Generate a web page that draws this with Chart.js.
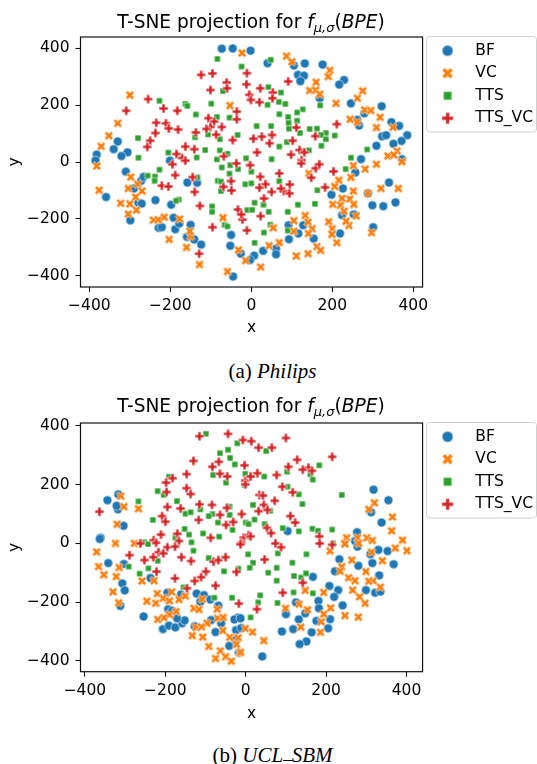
<!DOCTYPE html>
<html>
<head>
<meta charset="utf-8">
<script src="https://cdn.jsdelivr.net/npm/chart.js@4"></script>
<style>
html,body{margin:0;padding:0;background:#fff;}
#page{position:relative;width:537px;height:764px;overflow:hidden;}
canvas{position:absolute;left:0;}
.title{position:absolute;left:80px;width:342px;text-align:center;font:18.6px "DejaVu Sans";color:#000;line-height:22px;white-space:nowrap;z-index:2;}
.title sub{font-size:13px;line-height:0;vertical-align:-4px;}
.cap{position:absolute;left:4px;width:537px;font:21px "Liberation Serif";color:#000;line-height:24px;white-space:nowrap;text-align:center;z-index:2;}
.us{position:relative;top:-3px;font-size:17px;}
</style>
</head>
<body>
<div id="page">
<div class="title" style="top:11px">T-SNE projection for <i>f</i><sub><i>μ,σ</i></sub>(<i>BPE</i>)</div>
<canvas id="c1" width="545" height="345" style="top:0"></canvas>
<div class="cap" style="top:359px">(a) <i>Philips</i></div>
<div class="title" style="top:395px">T-SNE projection for <i>f</i><sub><i>μ,σ</i></sub>(<i>BPE</i>)</div>
<canvas id="c2" width="545" height="345" style="top:386px"></canvas>
<div class="cap" style="top:743px">(b) <i>UCL<span class="us">_</span>SBM</i></div>
</div>
<script>
const seriesNames = ['BF', 'VC', 'TTS', 'TTS_VC'];
const seriesColors = ['#1f77b4', '#ff7f0e', '#2ca02c', '#d62728'];
const tickValues = [-400, -200, 0, 200, 400];

const philipsBF = [[-73,398],[-46,399],[-2,391],[-382,26],[-330,72],[-340,45],[-306,34],[-321,21],[-201,5],
[40,347],[105,339],[132,346],[176,342],[115,306],[130,303],[121,284],[229,288],[217,272],[246,206],[322,196],[279,171],[262,148],[266,128],[346,140],[365,127],[323,90],[333,94],[385,94],[371,74],[351,64],[309,57],[271,10],[372,10],[169,224],
[-385,5],[-310,-34],[-272,-66],[-266,-52],[-290,-93],[-359,-123],[-279,-143],[-271,-146],[-299,-205],[-237,-134],[-198,-150],[-158,-72],[-134,-73],[-192,-196],[-229,-231],[-221,-229],[-188,-236],[-178,-216],[-150,-221],[-159,-263],[-141,-272],[-124,-290],[-50,-256],[-52,-294],[-26,-322],[-45,-402],
[257,-37],[340,-72],[226,-93],[198,-115],[299,-152],[326,-155],[356,-142],[288,-110],[253,-184],[224,-187],[301,-229],[219,-251],[92,-222],[128,-222],[116,-251],[93,-271],[154,-269],[61,-304],[61,-324],[29,-312],[7,-329],[-3,-344]];
const philipsVC = [[-23,383],[-300,235],[-330,136],[-352,92],[-371,55],[-53,198],
[87,372],[100,352],[194,322],[190,300],[160,280],[144,251],[159,252],[169,238],[275,250],[262,224],[209,206],[280,183],[295,181],[244,150],[262,140],[318,157],[309,121],[350,122],[360,39],[337,21],[352,25],
[-382,-14],[-376,-99],[-298,-53],[-304,-93],[-281,-78],[-270,-102],[-286,-123],[-323,-145],[-300,-147],[-304,-183],[-284,-169],[-242,-204],[-230,-203],[-215,-194],[-177,-200],[-203,-272],[-150,-261],[-152,-243],[-160,-300],[-128,-360],[-70,-196],[-59,-385],[-32,-309],[-14,-346],
[372,1],[309,-8],[281,-25],[252,-13],[246,-54],[216,-64],[206,-86],[252,-102],[224,-128],[243,-130],[288,-110],[320,-93],[363,-93],[201,-149],[220,-152],[253,-149],[229,-173],[259,-189],[191,-210],[241,-223],[200,-234],[199,-254],[297,-248],[211,-283],[234,-208],[105,-206],[133,-188],[140,-211],[150,-234],[141,-251],[162,-297],[140,-322],[111,-330],[69,-283],[44,-294],[23,-369],[54,-231],[171,-310],[142,-40],[105,-243]];
const philipsTTS = [[-84,362],[-24,335],[-227,215],[-163,204],[-158,197],[-99,205],[-70,249],[-137,167],[-85,158],[-54,156],[-34,95],[-280,84],[-139,87],[-107,97],[-78,80],[-205,33],[-114,42],[-78,41],[-59,29],[-279,15],[-135,16],[-85,9],[-13,13],
[48,359],[42,263],[73,244],[68,211],[84,204],[40,201],[170,199],[127,185],[113,174],[69,168],[91,158],[113,145],[92,137],[93,117],[13,126],[49,126],[120,102],[144,116],[162,117],[184,102],[172,95],[206,93],[184,80],[88,70],[69,54],[173,57],[142,41],[286,44],[50,10],[246,15],
[-256,-48],[-238,-51],[-227,-27],[-239,-66],[-133,-54],[-179,-132],[-186,-136],[-97,-156],[-97,-175],[-66,-221],[-59,-226],[-73,-19],[-54,-41],[-52,-11],[-33,-25],[-83,-66],[-75,-69],[-75,-102],[-15,-78],[-10,-169],
[233,-25],[0,-34],[69,-67],[0,-75],[163,-99],[8,-143],[30,-150],[2,-168],[43,-175],[90,-175],[115,-150],[157,-147],[47,-220],[31,-248],[90,-241],[8,-284]];
const philipsTTSVC = [[-124,306],[-96,311],[-11,312],[-61,279],[-12,273],[-101,253],[-60,259],[-255,221],[-309,180],[-217,188],[-183,180],[-36,177],[-36,150],[-106,154],[-92,142],[-235,138],[-211,136],[-204,118],[-181,114],[-101,123],[-73,123],[-111,116],[-237,102],[-137,104],[-87,96],[-250,75],[-46,77],[-257,53],[-163,54],[-141,45],[-185,28],[-171,14],[-68,20],
[22,259],[53,244],[91,283],[-5,236],[52,224],[-1,218],[20,210],[211,133],[111,121],[158,91],[51,95],[26,89],[5,82],[45,66],[102,75],[119,42],[14,34],[98,26],[131,34],[124,7],
[-195,-8],[-163,5],[-188,-46],[-145,-53],[-221,-83],[-205,-86],[-140,-105],[-127,-154],[-96,-229],[-33,-167],[-22,-202],[-25,-184],[-11,-240],[-129,-322],[-37,-5],[-3,-11],[-50,-67],[-69,-87],[-49,-100],
[123,-5],[69,-40],[159,-22],[168,-8],[203,-33],[148,-55],[22,-52],[35,-78],[20,-90],[50,-105],[80,-102],[95,-79],[94,-110],[31,-128],[182,-89],[23,-190],[73,-93]];

const ucl_BF = [[-344,147],[-317,167],[-318,116],[-321,128],[-304,60],[-361,19],[-363,15],
[318,183],[355,147],[312,106],[338,71],[104,42],[277,38],[272,8],
[-342,-67],[-303,-70],[-307,-136],[-301,-160],[-312,-213],[-237,-118],[-254,-249],[-206,-292],[-191,-280],[-175,-286],[-158,-272],[-152,-262],[-193,-224],[-183,-229],[-171,-255],[-195,-168],[-161,-174],[-122,-171],[-104,-176],[-88,-191],[-113,-199],[-68,-212],[-86,-261],[-61,-272],[-127,-282],[-75,-302],[-19,-253],[-28,-259],[-24,-295],[-11,-288],[-41,-349],[-17,-372],[-26,-329],
[278,-11],[330,-22],[353,-26],[310,-37],[233,-54],[280,-76],[315,-67],[368,-71],[222,-95],[332,-109],[167,-114],[208,-145],[230,-159],[220,-182],[299,-159],[322,-168],[335,-164],[181,-196],[182,-221],[241,-211],[125,-201],[100,-241],[148,-238],[132,-259],[210,-258],[176,-264],[205,-289],[90,-300],[118,-292],[164,-303],[151,-334],[134,-343],[41,-385],[-13,-255]];
const ucl_VC = [[-311,161],[-303,125],[-267,118],[-320,65],[-324,0],[-277,0],
[320,138],[306,116],[365,90],[363,43],[251,19],[278,19],[301,19],[315,10],[390,11],[246,0],[281,0],
[-371,-29],[-366,-79],[-315,-82],[-353,-107],[-322,-113],[-330,-165],[-316,-202],[-258,-128],[-228,-127],[-246,-197],[-220,-171],[-224,-204],[-205,-187],[-184,-165],[-190,-196],[-166,-191],[-150,-179],[-129,-221],[-116,-225],[-108,-190],[-71,-224],[-173,-232],[-190,-243],[-204,-253],[-219,-259],[-70,-255],[-56,-252],[-96,-272],[-124,-286],[-110,-284],[-133,-314],[-107,-319],[-92,-351],[-57,-297],[-40,-320],[-19,-321],[-23,-344],[-63,-366],[-50,-386],[-75,-392],[-36,-401],[-15,-372],[-1,-290],
[247,-2],[210,-26],[313,-30],[372,-16],[401,-25],[264,-57],[340,-59],[239,-79],[235,-95],[299,-96],[256,-117],[272,-127],[317,-127],[306,-129],[335,-149],[266,-159],[283,-182],[297,-204],[148,-160],[194,-167],[133,-207],[99,-221],[154,-226],[211,-220],[247,-246],[280,-251],[194,-241],[188,-267],[186,-303],[137,-285],[45,-331],[17,-302],[-13,-371]];
const ucl_TTS = [[-99,373],[-64,307],[-44,319],[-21,341],[-39,291],[-27,269],[-81,233],[-49,207],[-1,237],[-219,178],[-191,227],[-204,165],[-267,143],[-171,144],[-150,101],[-137,106],[-113,116],[-231,80],[-83,100],[-92,93],[-40,97],[-69,71],[-40,125],[0,71],[7,66],[-152,49],[-141,30],[-106,34],[-66,23],[-33,46],[-135,4],[-175,19],[-252,4],
[51,315],[183,266],[103,244],[46,228],[161,235],[167,217],[-3,199],[104,193],[132,167],[239,165],[141,134],[18,131],[61,111],[22,81],[47,66],[92,52],[132,41],[166,50],[180,43],[215,47],[217,0],
[-243,-2],[-130,-25],[-92,-50],[-291,-79],[-264,-103],[-242,-85],[-219,-59],[-54,-95],[-18,-86],[6,-37],[-155,-150],[-78,-185],[-34,-185],[12,-252],
[151,-37],[80,-34],[18,-66],[10,-83],[116,-66],[77,-83],[56,-100],[120,-111],[138,-116],[150,-102],[77,-127],[119,-167],[167,-170],[36,-177],[31,-201],[79,-203]];
const ucl_TTSVC = [[-115,365],[-44,373],[-7,352],[-130,281],[-67,278],[-83,261],[-3,266],[-64,237],[-46,228],[-147,236],[-182,222],[-198,207],[-1,214],[-1,201],[-147,188],[-137,168],[-197,175],[-364,108],[-195,124],[-162,119],[-115,133],[-84,131],[-47,121],[-64,97],[-208,93],[-200,74],[-117,80],[-10,100],[-49,63],[-31,73],[-211,30],[-170,33],[-166,8],[-229,11],[-87,19],[-5,20],[-11,2],[-262,0],[7,28],
[100,359],[14,348],[32,326],[65,326],[215,295],[128,285],[106,261],[156,258],[142,251],[165,247],[29,239],[77,233],[12,228],[91,193],[117,174],[34,165],[43,163],[72,145],[45,131],[32,110],[54,114],[111,93],[123,71],[53,53],[63,35],[12,24],[183,24],[184,0],[74,0],
[-223,2],[-195,-13],[-176,-11],[-217,-30],[-230,-47],[-252,-57],[-289,-40],[-205,-34],[-160,-47],[-136,-60],[-80,-62],[-68,-57],[-50,-47],[-13,-3],[-222,-96],[-176,-119],[-99,-96],[-111,-115],[-127,-128],[-146,-153],[-23,-97],[-75,-144],[-17,-205],
[88,-13],[215,-5],[47,-55],[142,-134],[92,-168],[28,-224]];

const X_PATH = [[.25,0],[.5,.25],[.75,0],[1,.25],[.75,.5],[1,.75],[.75,1],[.5,.75],[.25,1],[0,.75],[.25,.5],[0,.25]];
const P_PATH = [[1/3,0],[2/3,0],[2/3,1/3],[1,1/3],[1,2/3],[2/3,2/3],[2/3,1],[1/3,1],[1/3,2/3],[0,2/3],[0,1/3],[1/3,1/3]];
function makeMarker(shape, size, color, edge) {
  const cv = document.createElement('canvas');
  const dim = Math.ceil(size + edge * 2 + 2);
  cv.width = dim; cv.height = dim;
  const g = cv.getContext('2d');
  const o = (dim - size) / 2;
  g.beginPath();
  if (shape === 'o') g.arc(dim / 2, dim / 2, size / 2, 0, Math.PI * 2);
  else if (shape === 's') g.rect(o, o, size, size);
  else (shape === 'X' ? X_PATH : P_PATH).forEach((p, i) => {
    if (i === 0) g.moveTo(o + p[0] * size, o + p[1] * size); else g.lineTo(o + p[0] * size, o + p[1] * size);
  });
  g.closePath();
  g.fillStyle = color; g.fill();
  g.strokeStyle = '#fff'; g.lineWidth = edge; g.stroke();
  return cv;
}
const shapes = ['o', 'X', 's', 'P'];
const plotSizes = [9, 8.8, 6, 9];
const legendSizes = [11, 11, 8.4, 11.5];
const plotMarkers = shapes.map((s, i) => makeMarker(s, plotSizes[i], seriesColors[i], 0.6));
const legendMarkers = shapes.map((s, i) => makeMarker(s, legendSizes[i], seriesColors[i], 0.6));

const frame = {
  id: 'frame',
  afterLayout(chart) {
    chart.legend.left = chart.chartArea.right - 2;
    chart.legend.top = chart.chartArea.top - 1;
  },
  afterDraw(chart) {
    const a = chart.chartArea, g = chart.ctx;
    g.save();
    g.strokeStyle = '#111'; g.lineWidth = 1.2;
    g.strokeRect(a.left, a.top, a.right - a.left, a.bottom - a.top);
    g.strokeStyle = '#d0d0d0'; g.lineWidth = 1;
    g.beginPath();
    g.roundRect(a.right + 4, a.top - 0.5, 536.5 - a.right - 4, 95.5, 3);
    g.stroke();
    g.restore();
  }
};

function buildChart(id, groups, xr, yr, top, axisHeight) {
  const font = { family: 'DejaVu Sans', size: 15.5 };
  const axis = (label, range, extra) => Object.assign({
    type: 'linear', min: range[0], max: range[1],
    title: { display: true, text: label, color: '#000', font },
    grid: { drawOnChartArea: false, drawTicks: true, tickLength: 5, tickColor: '#111', tickWidth: 1.1 },
    border: { display: false },
    afterBuildTicks: s => { s.ticks = tickValues.map(v => ({ value: v })); },
    ticks: { color: '#000', font, autoSkip: false, maxRotation: 0,
      callback: v => String(v).replace('-', '\u2212') }
  }, extra);
  const xAxis = axis('x', xr, { afterFit: s => { s.height = axisHeight; } });
  xAxis.ticks.padding = 5;
  xAxis.title.padding = { top: 0, bottom: 8 };
  const yAxis = axis('y', yr, { afterFit: s => { s.width = 80.5; } });
  yAxis.ticks.padding = 6;
  yAxis.title.padding = { top: 6, bottom: 0 };
  return new Chart(document.getElementById(id), {
    type: 'scatter',
    plugins: [frame],
    data: {
      datasets: seriesNames.map((name, i) => ({
        label: name,
        data: groups[i].map(p => ({ x: p[0], y: p[1] })),
        backgroundColor: seriesColors[i],
        pointStyle: plotMarkers[i],
        order: [4, 2, 3, 1][i]
      }))
    },
    options: {
      responsive: false, animation: false,
      layout: { padding: { top, left: 0, right: 0, bottom: 0 } },
      scales: { x: xAxis, y: yAxis },
      plugins: {
        tooltip: { enabled: false },
        legend: {
          position: 'right', align: 'start',
          labels: {
            usePointStyle: true, pointStyleWidth: 40, padding: 7, color: '#000', font,
            sort: (a, b) => a.datasetIndex - b.datasetIndex,
            generateLabels: c => Chart.defaults.plugins.legend.labels.generateLabels(c)
              .map(it => Object.assign(it, { pointStyle: legendMarkers[it.datasetIndex] }))
          }
        }
      }
    }
  });
}
buildChart('c1', [philipsBF, philipsVC, philipsTTS, philipsTTSVC], [-422, 423], [-439, 439], 37, 58);
buildChart('c2', [ucl_BF, ucl_VC, ucl_TTS, ucl_TTSVC], [-411, 440], [-437, 410], 37, 59.3);
</script>
</body>
</html>
